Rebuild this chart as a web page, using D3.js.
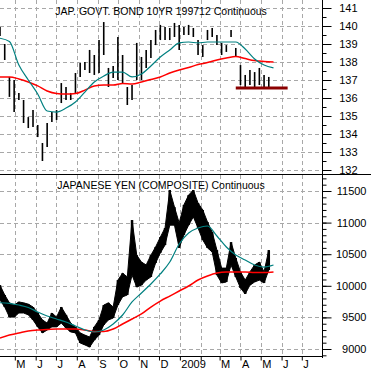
<!DOCTYPE html>
<html>
<head>
<meta charset="utf-8">
<title>JGB 10yr / Japanese Yen</title>
<script src="https://d3js.org/d3.v7.min.js"></script>
<style>
  body { margin: 0; background: #fff; }
  text { font-family: "Liberation Sans", Arial, sans-serif; fill: #000; }
</style>
</head>
<body>
<svg id="canvas" width="371" height="372"></svg>
<script>
// weekly bars, first week centred on this date
var firstWeek = "2008-04-09";

var bondHigh = [139.94,139.0,137.17,137.0,136.28,135.89,134.94,135.33,134.5,133.5,
  134.61,135.22,135.33,136.83,136.61,136.28,137.39,137.94,138.0,138.67,
  138.39,139.22,140.22,137.67,137.78,139.39,138.39,136.61,136.72,139.06,
  138.28,138.67,139.22,139.78,140.06,139.94,139.89,140.17,140.06,139.94,
  140.06,139.89,139.22,138.94,139.78,139.89,139.5,139.06,138.94,139.78,
  138.78,137.83,137.28,137.56,137.44,137.67,137.28,137.17];
var bondLow = [139.44,138.11,136.06,135.22,135.89,134.61,134.33,134.39,133.83,132.5,
  133.28,134.67,134.78,135.72,135.89,135.89,136.28,137.17,137.56,137.39,
  137.28,137.39,138.39,136.61,137.11,137.0,136.83,135.61,135.89,137.0,
  137.0,137.67,138.22,138.94,139.22,139.22,139.22,139.39,138.67,139.5,
  139.5,139.39,138.39,138.28,139.22,139.39,138.94,138.39,138.56,139.39,
  138.28,136.72,136.56,136.72,136.61,136.72,136.61,136.61];

var yenHigh = [10010,9855,9730,9695,9745,9730,9710,9665,9570,9460,
  9410,9570,9505,9665,9540,9410,9350,9255,9220,9190,
  9350,9460,9695,9730,9665,10090,10200,10140,11040,10485,
  10375,10330,10485,10615,10770,10915,11515,11245,10995,11280,
  11435,11515,11310,11200,11010,10850,10565,10280,10280,10690,
  10440,10220,10090,10220,10330,10375,10220,10565];
var yenLow = [9775,9665,9505,9505,9570,9570,9540,9460,9350,9255,
  9300,9350,9350,9410,9330,9270,9255,9095,9065,9030,
  9140,9220,9380,9460,9490,9695,9825,9855,10170,9980,
  10010,10090,10140,10360,10520,10645,10960,10960,10600,10805,
  10960,11090,10915,10725,10600,10535,10170,10045,10060,10330,
  10140,9965,9870,10010,10060,10090,10045,10250];

// moving averages, one point every second week
var bondFastMa = [139.32,139.14,137.83,137.0,136.22,135.28,135.22,135.44,135.78,136.33,
  136.89,137.22,137.44,137.44,137.17,137.33,137.78,138.28,138.67,139.06,
  139.11,139.06,139.11,139.11,139.11,139.11,138.72,138.17,137.83,137.67];
var bondSlowMa = [137.17,137.17,137.06,136.89,136.67,136.39,136.25,136.22,136.25,136.44,
  136.67,136.72,136.72,136.81,136.78,136.89,137.03,137.17,137.39,137.56,
  137.69,137.86,137.97,138.11,138.22,138.31,138.19,138.08,138.03,138.0];
var yenFastMa = [9732,9723,9696,9657,9585,9522,9475,9427,9364,9301,
  9269,9301,9396,9538,9744,9886,10028,10187,10376,10661,
  10835,10914,10946,10788,10614,10487,10408,10329,10297,10329];
var yenSlowMa = [9174,9221,9253,9285,9301,9308,9316,9316,9316,9301,
  9277,9277,9316,9396,9475,9554,9664,9759,9838,9918,
  9997,10092,10155,10202,10218,10218,10218,10210,10210,10218];

var bondSupport = [["2009-03-25", 136.55], ["2009-06-10", 136.55]];

var monthLabels = ["M","J","J","A","S","O","N","D","2009","","M","A","M","J","J"];
var bondTicks = [132,133,134,135,136,137,138,139,140,141];
var yenTicks = [9000,9500,10000,10500,11000,11500];

var parse = d3.timeParse("%Y-%m-%d");
var start = parse(firstWeek);
function weekDate(i){ return d3.timeDay.offset(start, 7 * i); }

var svg = d3.select("#canvas");
var right = 322;

var x = d3.scaleTime()
  .domain([parse("2008-04-09"), parse("2009-07-31")])
  .range([0, right]);
var yTop = d3.scaleLinear().domain([132, 141]).range([170, 8]);
var yBot = d3.scaleLinear().domain([9000, 11500]).range([349, 191]);

var months = d3.timeMonth.range(parse("2008-05-01"), parse("2009-07-02"));

var defs = svg.append("defs");
defs.append("clipPath").attr("id", "clipTop")
  .append("rect").attr("x", 0).attr("y", 0).attr("width", right).attr("height", 174);
defs.append("clipPath").attr("id", "clipBot")
  .append("rect").attr("x", 0).attr("y", 175).attr("width", right).attr("height", 181);

// grid
var grid = svg.append("g")
  .attr("stroke", "#a8a8a8")
  .attr("stroke-dasharray", "4,3")
  .attr("stroke-width", 1);

grid.selectAll(".vg").data(months).enter().append("line")
  .attr("x1", function(d){ return Math.round(x(d)) + 0.5; })
  .attr("x2", function(d){ return Math.round(x(d)) + 0.5; })
  .attr("y1", 0).attr("y2", 356);

grid.selectAll(".hgt").data(bondTicks).enter().append("line")
  .attr("x1", 0).attr("x2", right)
  .attr("y1", function(d){ return Math.round(yTop(d)) + 0.5; })
  .attr("y2", function(d){ return Math.round(yTop(d)) + 0.5; });

grid.selectAll(".hgb").data(yenTicks).enter().append("line")
  .attr("x1", 0).attr("x2", right)
  .attr("y1", function(d){ return Math.round(yBot(d)) + 0.5; })
  .attr("y2", function(d){ return Math.round(yBot(d)) + 0.5; });

// titles
svg.append("text").attr("x", 161).attr("y", 15)
  .attr("text-anchor", "middle").style("font-size", "10.5px")
  .text("JAP. GOVT. BOND 10YR 199712 Continuous");
svg.append("text").attr("x", 161).attr("y", 189)
  .attr("text-anchor", "middle").style("font-size", "10.5px")
  .text("JAPANESE YEN (COMPOSITE) Continuous");

// ---- top panel: bond
var topG = svg.append("g").attr("clip-path", "url(#clipTop)");

topG.selectAll(".bar").data(bondHigh).enter().append("line")
  .attr("x1", function(d, i){ return x(weekDate(i)); })
  .attr("x2", function(d, i){ return x(weekDate(i)); })
  .attr("y1", function(d){ return yTop(d); })
  .attr("y2", function(d, i){ return yTop(bondLow[i]); })
  .attr("stroke", "#000").attr("stroke-width", 1.6);

function maLine(y){
  return d3.line()
    .x(function(d, i){ return x(weekDate(2 * i)); })
    .y(function(d){ return y(d); })
    .curve(d3.curveMonotoneX);
}

topG.append("path").datum(bondSlowMa)
  .attr("d", maLine(yTop))
  .attr("fill", "none").attr("stroke", "#ff0000").attr("stroke-width", 1.5);
topG.append("path").datum(bondFastMa)
  .attr("d", maLine(yTop))
  .attr("fill", "none").attr("stroke", "#008080").attr("stroke-width", 1.2);

topG.append("line")
  .attr("x1", x(parse(bondSupport[0][0]))).attr("x2", x(parse(bondSupport[1][0])))
  .attr("y1", yTop(bondSupport[0][1])).attr("y2", yTop(bondSupport[1][1]))
  .attr("stroke", "#8b0000").attr("stroke-width", 3);

// ---- bottom panel: yen
var botG = svg.append("g").attr("clip-path", "url(#clipBot)");

botG.append("path").datum(yenHigh)
  .attr("d", d3.area()
    .x(function(d, i){ return x(weekDate(i)); })
    .y0(function(d, i){ return yBot(yenLow[i]); })
    .y1(function(d){ return yBot(d); }))
  .attr("fill", "#000").attr("stroke", "#000").attr("stroke-width", 1);

botG.selectAll(".bar").data(yenHigh).enter().append("line")
  .attr("x1", function(d, i){ return x(weekDate(i)); })
  .attr("x2", function(d, i){ return x(weekDate(i)); })
  .attr("y1", function(d){ return yBot(d); })
  .attr("y2", function(d, i){ return yBot(yenLow[i]); })
  .attr("stroke", "#000").attr("stroke-width", 2.5);

botG.append("path").datum(yenSlowMa)
  .attr("d", maLine(yBot))
  .attr("fill", "none").attr("stroke", "#ff0000").attr("stroke-width", 1.5);
botG.append("path").datum(yenFastMa)
  .attr("d", maLine(yBot))
  .attr("fill", "none").attr("stroke", "#008080").attr("stroke-width", 1.2);

// ---- frame
svg.append("line").attr("x1", 0).attr("x2", 371).attr("y1", 174.5).attr("y2", 174.5)
  .attr("stroke", "#000");
svg.append("line").attr("x1", 0).attr("x2", right).attr("y1", 356.5).attr("y2", 356.5)
  .attr("stroke", "#000");
svg.append("line").attr("x1", right + 0.5).attr("x2", right + 0.5).attr("y1", 0).attr("y2", 358)
  .attr("stroke", "#000");

// ---- right axes
function addAxis(scale, minor, major, labelX){
  var g = svg.append("g").attr("transform", "translate(" + (right + 0.5) + ",0)");
  g.call(d3.axisRight(scale).tickValues(minor).tickSize(4).tickFormat(""));
  var m = svg.append("g").attr("transform", "translate(" + (right + 0.5) + ",0)");
  m.call(d3.axisRight(scale).tickValues(major).tickSize(9).tickFormat(d3.format("d")));
  [g, m].forEach(function(a){
    a.select(".domain").remove();
    a.selectAll("line").attr("stroke", "#000");
  });
  m.selectAll("text")
    .attr("x", labelX).attr("text-anchor", "end")
    .style("font-size", "11px")
    .style("font-family", "'Liberation Sans', Arial, sans-serif");
}
addAxis(yTop, d3.range(132, 141.01, 0.5), bondTicks, 35);
addAxis(yBot, d3.range(8900, 11701, 100), yenTicks, 44);

// ---- month axis
var xa = svg.append("g").attr("transform", "translate(0,356.5)");
xa.call(d3.axisBottom(x).tickValues(months).tickSize(4).tickFormat(function(d, i){ return monthLabels[i]; }));
xa.select(".domain").remove();
xa.selectAll("line").attr("stroke", "#000");
xa.selectAll("text")
  .attr("text-anchor", "start")
  .attr("x", 1).attr("y", 4).attr("dy", "0.71em")
  .style("font-size", "11px")
  .style("font-family", "'Liberation Sans', Arial, sans-serif");
</script>
</body>
</html>
